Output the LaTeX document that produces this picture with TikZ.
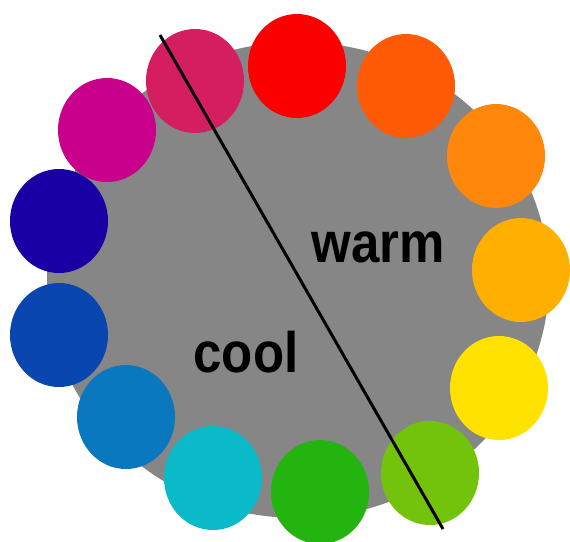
\documentclass[tikz,border=0pt]{standalone}
\usepackage{fontspec}
\newfontfamily\labelfont{Liberation Sans}
\usetikzlibrary{shapes.geometric}
\definecolor{cgray}{RGB}{134,134,134}
\definecolor{ccrimson}{RGB}{213,30,96}
\definecolor{cred}{RGB}{252,0,0}
\definecolor{corangered}{RGB}{255,90,5}
\definecolor{corange}{RGB}{255,135,12}
\definecolor{cyelloworange}{RGB}{255,175,0}
\definecolor{cyellow}{RGB}{255,226,0}
\definecolor{cyellowgreen}{RGB}{115,195,12}
\definecolor{cgreen}{RGB}{35,180,15}
\definecolor{ccyan}{RGB}{10,186,200}
\definecolor{cblue}{RGB}{10,120,190}
\definecolor{cdarkblue}{RGB}{10,70,175}
\definecolor{cindigo}{RGB}{25,0,165}
\definecolor{cmagenta}{RGB}{200,0,140}
\tikzset{
  dot/.style={ellipse, minimum width=98pt, minimum height=104pt, inner sep=0pt, fill=#1},
  word/.style={anchor=base, inner sep=0pt, font=\labelfont\bfseries\fontsize{51}{60}\selectfont},
  divider/.style={line width=3pt, black}
}
\begin{document}
\begin{tikzpicture}[x=1pt,y=-1pt]
\useasboundingbox (0,0) rectangle (570,541);
\fill[white] (0,0) rectangle (570,541);
\clip (9,0) rectangle (570,541);
\node[ellipse, fill=cgray, minimum width=502pt, minimum height=476pt, inner sep=0pt] (disc) at (298,280) {};
\node[dot=ccrimson] (crimson) at (195,81) {};
\node[dot=cred] (red) at (297,66) {};
\node[dot=corangered] (orangered) at (406,86) {};
\node[dot=corange] (orange) at (496,156) {};
\node[dot=cyelloworange] (yelloworange) at (521,270) {};
\node[dot=cyellow] (yellow) at (499,388) {};
\node[dot=cyellowgreen] (yellowgreen) at (430,473) {};
\node[dot=cgreen] (green) at (320,492) {};
\node[dot=ccyan] (cyan) at (213,478) {};
\node[dot=cblue] (blue) at (126,417) {};
\node[dot=cdarkblue] (darkblue) at (59,335) {};
\node[dot=cindigo] (indigo) at (59,221) {};
\node[dot=cmagenta] (magenta) at (107,130) {};
\coordinate (top) at (160,35);
\coordinate (bottom) at (443,529);
\draw[divider] (top) -- (bottom);
\node[word] (warm) at (378.5,262) {\scalebox{1}[1.12]{warm}};
\node[word] (cool) at (246,372) {\scalebox{1}[1.12]{cool}};
\end{tikzpicture}
\end{document}
